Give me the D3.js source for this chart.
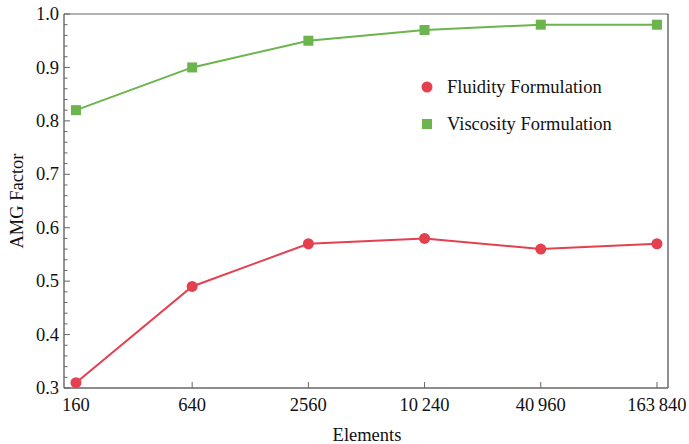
<!DOCTYPE html>
<html>
<head>
<meta charset="utf-8">
<script src="https://cdn.jsdelivr.net/npm/d3@7"></script>
<style>
  body { margin: 0; background: #fff; }
</style>
</head>
<body>
<div id="chart"></div>
<script>
// Data
const elements = [160, 640, 2560, 10240, 40960, 163840];
const elementLabels = ["160", "640", "2560", "10\u2009240", "40\u2009960", "163\u2009840"];
const fluidity = [0.31, 0.49, 0.57, 0.58, 0.56, 0.57];
const viscosity = [0.82, 0.90, 0.95, 0.97, 0.98, 0.98];
const yTicks = [0.3, 0.4, 0.5, 0.6, 0.7, 0.8, 0.9, 1.0];

const W = 689, H = 444;
const margin = {top: 14, right: 21, bottom: 56, left: 64};
const width = W - margin.left - margin.right,
    height = H - margin.top - margin.bottom;

const red = "#e5404f", green = "#6cb44d";
const serif = "'Liberation Serif', 'Times New Roman', Times, 'DejaVu Serif', serif";
const fs = 18.5;

const svg = d3.select("#chart").append("svg")
    .attr("width", W).attr("height", H)
    .attr("font-family", serif)
    .style("font-family", serif);
const g = svg.append("g")
    .attr("transform", `translate(${margin.left},${margin.top})`);

// Scales: log x, equal spacing per factor 4
const x = d3.scaleLog()
    .domain([elements[0] / Math.pow(4, 0.103), elements[5] * Math.pow(4, 0.095)])
    .range([0, width]);
const y = d3.scaleLinear().domain([0.3, 1.0]).range([height, 0]);

// Frame
g.append("line").attr("x1", 0).attr("x2", width).attr("y1", 0).attr("y2", 0)
    .attr("stroke", "#666").attr("stroke-width", 1.2);
g.append("line").attr("x1", width).attr("x2", width).attr("y1", 0).attr("y2", height)
    .attr("stroke", "#222").attr("stroke-width", 1);

// Left axis with minor ticks
const minor = d3.range(0.3, 1.0001, 0.02).map(v => +v.toFixed(2));
g.selectAll(".minor").data(minor).enter().append("line")
    .attr("x1", 0).attr("x2", d => Math.abs(d * 10 - Math.round(d * 10)) < 1e-6 ? 6 : 3.5)
    .attr("y1", d => y(d)).attr("y2", d => y(d))
    .attr("stroke", "#666").attr("stroke-width", 1);
g.append("line").attr("x1", 0).attr("x2", 0).attr("y1", 0).attr("y2", height)
    .attr("stroke", "#666").attr("stroke-width", 1.4);
g.selectAll(".ylab").data(yTicks).enter().append("text")
    .attr("x", -5).attr("y", d => y(d)).attr("dy", "0.33em")
    .attr("text-anchor", "end").attr("font-size", fs).attr("fill", "#111")
    .text(d => d.toFixed(1));

// Bottom axis
g.append("line").attr("x1", 0).attr("x2", width).attr("y1", height).attr("y2", height)
    .attr("stroke", "#666").attr("stroke-width", 1.4);
g.selectAll(".xt").data(elements).enter().append("line")
    .attr("x1", d => x(d)).attr("x2", d => x(d))
    .attr("y1", height).attr("y2", height - 6)
    .attr("stroke", "#666").attr("stroke-width", 1);
g.selectAll(".xlab").data(elements).enter().append("text")
    .attr("x", d => x(d)).attr("y", height + 23)
    .attr("text-anchor", "middle").attr("font-size", fs).attr("fill", "#111")
    .text((d, i) => elementLabels[i]);

// Axis titles
svg.append("text").attr("x", 367).attr("y", 441)
    .attr("text-anchor", "middle").attr("font-size", fs).attr("fill", "#111").text("Elements");
svg.append("text")
    .attr("transform", `translate(23,${margin.top + height / 2}) rotate(-90)`)
    .attr("text-anchor", "middle").attr("font-size", fs).attr("fill", "#111").text("AMG Factor");

// Lines
const line = d3.line().x((d, i) => x(elements[i])).y(d => y(d));
g.append("path").datum(viscosity).attr("fill", "none")
    .attr("stroke", green).attr("stroke-width", 2).attr("d", line);
g.append("path").datum(fluidity).attr("fill", "none")
    .attr("stroke", red).attr("stroke-width", 2).attr("d", line);

// Markers
g.selectAll(".sq").data(viscosity).enter().append("rect")
    .attr("x", (d, i) => x(elements[i]) - 5).attr("y", d => y(d) - 5)
    .attr("width", 10).attr("height", 10).attr("fill", green);
g.selectAll(".dot").data(fluidity).enter().append("circle")
    .attr("cx", (d, i) => x(elements[i])).attr("cy", d => y(d))
    .attr("r", 5.5).attr("fill", red);

// Legend
const legend = svg.append("g").attr("transform", "translate(427,87)");
legend.append("circle").attr("cx", 0).attr("cy", 0).attr("r", 5.5).attr("fill", red);
legend.append("text").attr("x", 20).attr("y", 0).attr("dy", "0.33em")
    .attr("font-size", fs).attr("fill", "#111").text("Fluidity Formulation");
legend.append("rect").attr("x", -5).attr("y", 32).attr("width", 10).attr("height", 10).attr("fill", green);
legend.append("text").attr("x", 20).attr("y", 37).attr("dy", "0.33em")
    .attr("font-size", fs).attr("fill", "#111").text("Viscosity Formulation");
</script>
</body>
</html>
